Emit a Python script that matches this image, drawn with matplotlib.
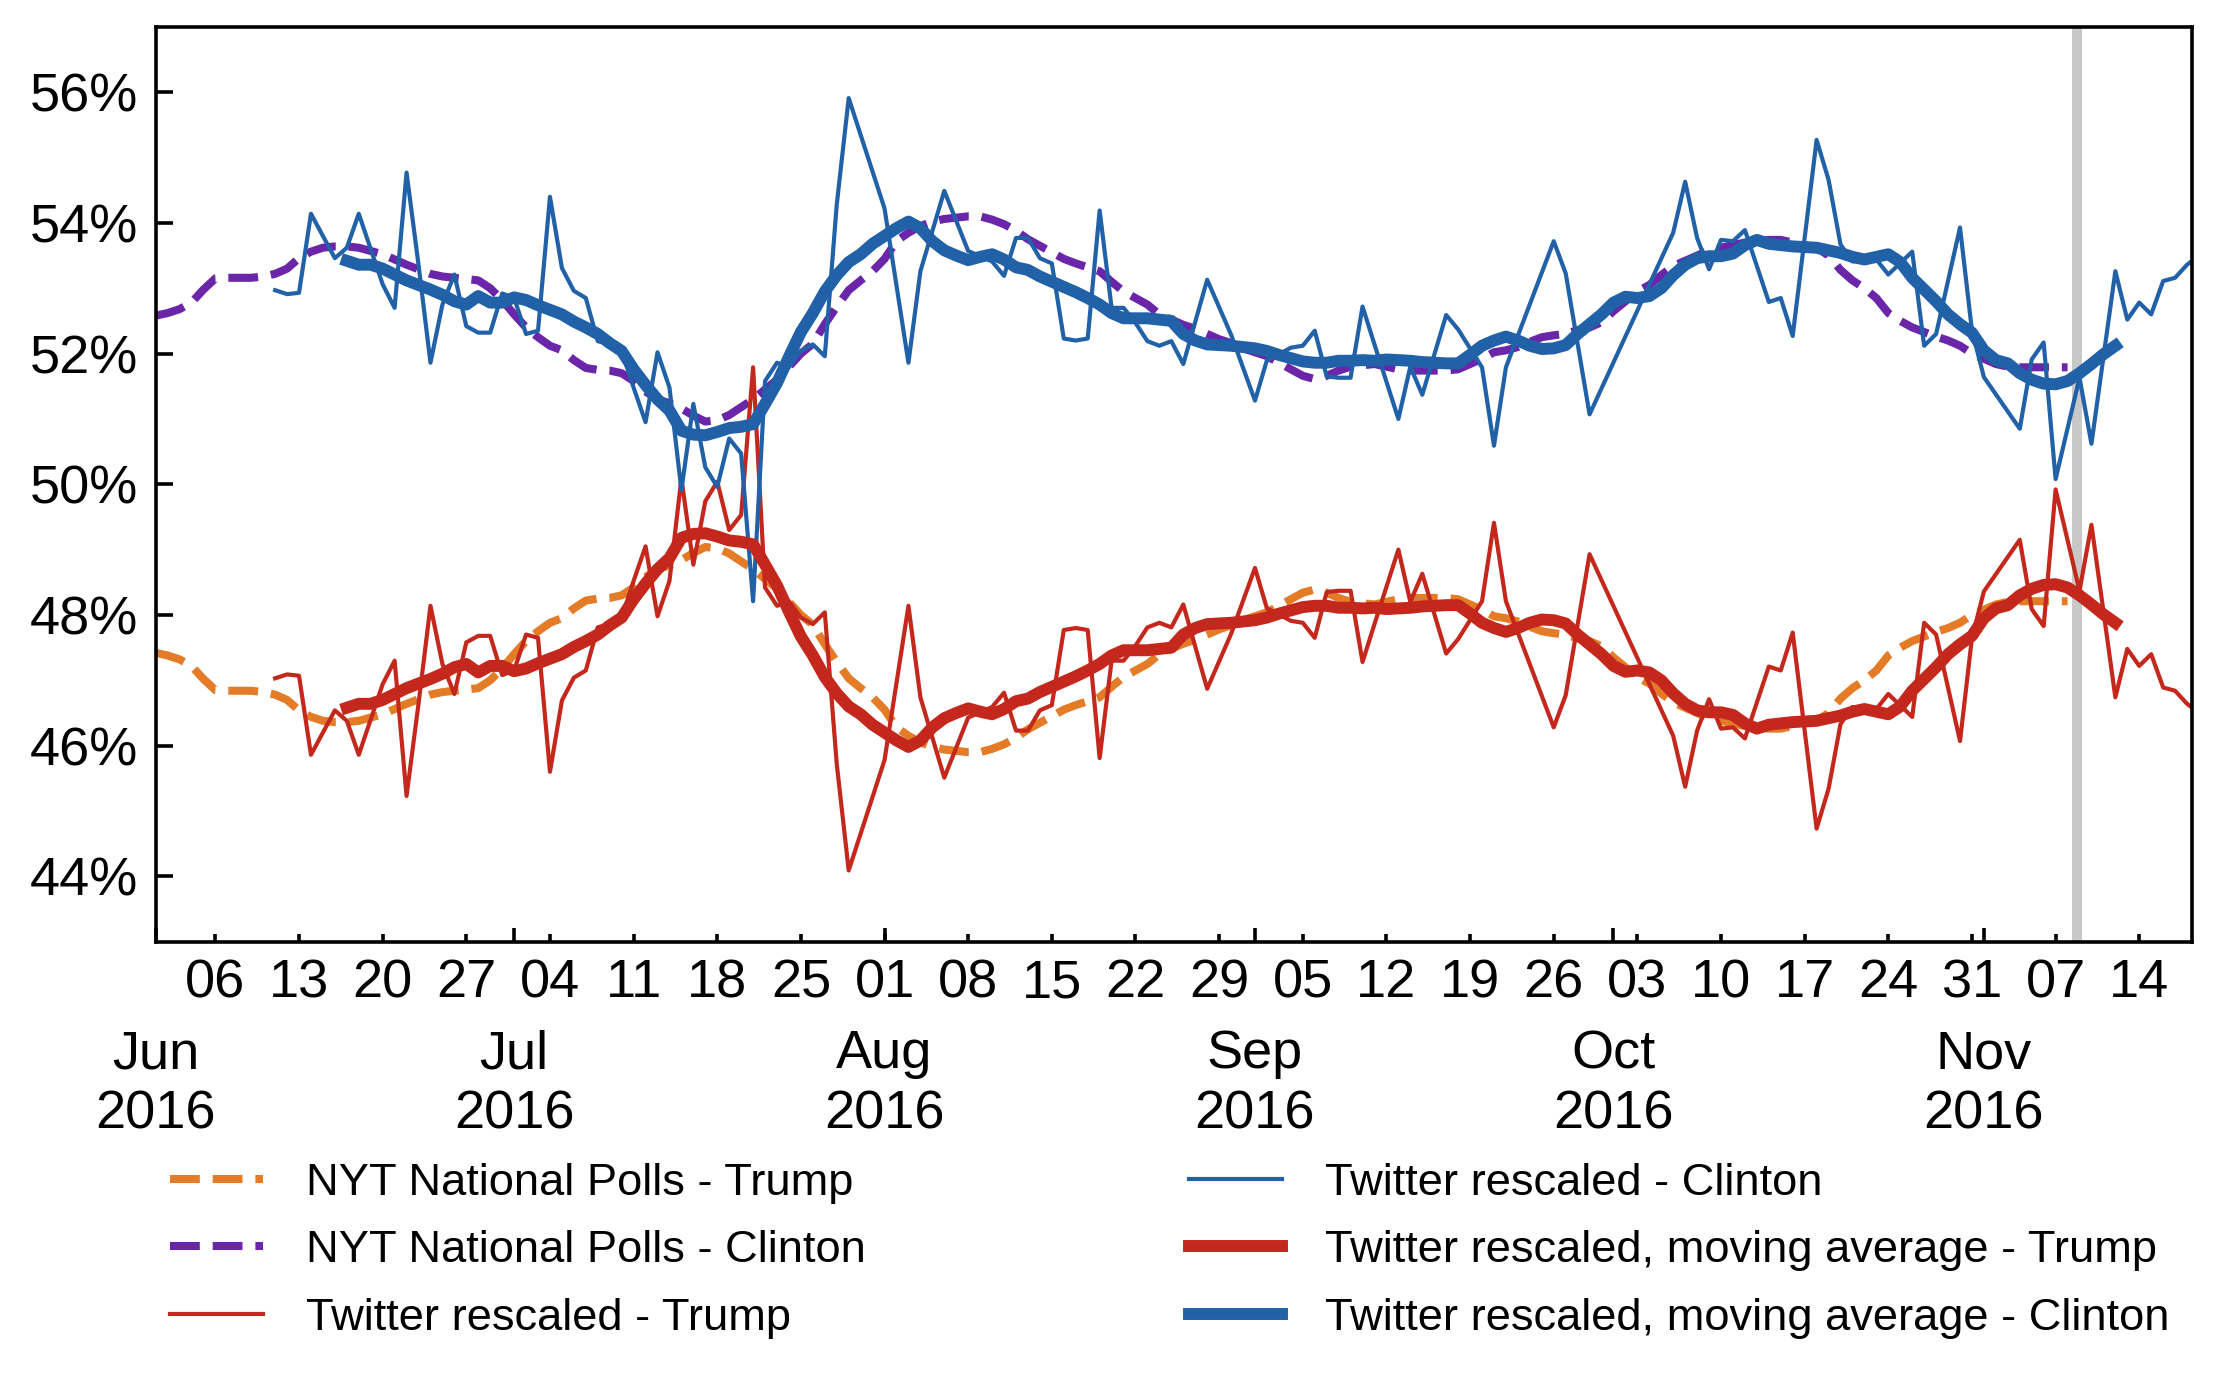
import matplotlib
matplotlib.use("Agg")
import matplotlib.pyplot as plt
import matplotlib.dates as mdates
import pandas as pd
from matplotlib.ticker import FuncFormatter, FixedLocator

plt.rcParams['font.family'] = ['Liberation Sans', 'DejaVu Sans']

# ---------------- data ----------------
# NYT national polls (daily, Jun 1 - Nov 8)
nyt_start, nyt_end = "2016-06-01", "2016-11-08"
nyt_clinton = [
    52.58, 52.62, 52.68, 52.78, 52.98, 53.15, 53.16, 53.16, 53.16, 53.18,
    53.22, 53.30, 53.46, 53.56, 53.62, 53.64, 53.64, 53.62, 53.57, 53.52,
    53.44, 53.36, 53.29, 53.22, 53.18, 53.16, 53.14, 53.12, 53.00, 52.82,
    52.60, 52.40, 52.25, 52.12, 52.05, 51.90, 51.78, 51.75, 51.74, 51.70,
    51.58, 51.42, 51.30, 51.24, 51.16, 51.05, 50.96, 50.98, 51.06, 51.18,
    51.30, 51.45, 51.60, 51.80, 52.00, 52.15, 52.45, 52.72, 52.97, 53.12,
    53.26, 53.45, 53.72, 53.85, 53.95, 54.02, 54.06, 54.08, 54.10, 54.10,
    54.05, 53.98, 53.88, 53.75, 53.65, 53.55, 53.45, 53.38, 53.32, 53.26,
    53.10, 52.95, 52.85, 52.75, 52.60, 52.52, 52.44, 52.38, 52.30, 52.22,
    52.16, 52.08, 52.02, 51.96, 51.86, 51.76, 51.66, 51.61, 51.66, 51.74,
    51.80, 51.82, 51.84, 51.80, 51.76, 51.74, 51.74, 51.74, 51.74, 51.76,
    51.84, 51.92, 52.02, 52.05, 52.10, 52.18, 52.25, 52.28, 52.30, 52.36,
    52.40, 52.48, 52.65, 52.80, 52.95, 53.05, 53.20, 53.34, 53.42, 53.50,
    53.58, 53.62, 53.66, 53.70, 53.72, 53.74, 53.74, 53.70, 53.66, 53.62,
    53.50, 53.28, 53.12, 53.00, 52.85, 52.62, 52.50, 52.40, 52.33, 52.26,
    52.20, 52.12, 52.00, 51.92, 51.84, 51.80, 51.79, 51.79, 51.79, 51.79,
    51.79,
]
nyt_trump = [
    47.42, 47.38, 47.32, 47.22, 47.02, 46.85, 46.84, 46.84, 46.84, 46.82,
    46.78, 46.70, 46.54, 46.44, 46.38, 46.36, 46.36, 46.38, 46.43, 46.48,
    46.56, 46.64, 46.71, 46.78, 46.82, 46.84, 46.86, 46.88, 47.00, 47.18,
    47.40, 47.60, 47.75, 47.88, 47.95, 48.10, 48.22, 48.25, 48.26, 48.30,
    48.42, 48.58, 48.70, 48.76, 48.84, 48.95, 49.04, 49.02, 48.94, 48.82,
    48.70, 48.55, 48.40, 48.20, 48.00, 47.85, 47.55, 47.28, 47.03, 46.88,
    46.74, 46.55, 46.28, 46.15, 46.05, 45.98, 45.94, 45.92, 45.90, 45.90,
    45.95, 46.02, 46.12, 46.25, 46.35, 46.45, 46.55, 46.62, 46.68, 46.74,
    46.90, 47.05, 47.15, 47.25, 47.40, 47.48, 47.56, 47.62, 47.70, 47.78,
    47.84, 47.92, 47.98, 48.04, 48.14, 48.24, 48.34, 48.39, 48.34, 48.26,
    48.20, 48.18, 48.16, 48.20, 48.24, 48.26, 48.26, 48.26, 48.26, 48.24,
    48.16, 48.08, 47.98, 47.95, 47.90, 47.82, 47.75, 47.72, 47.70, 47.64,
    47.60, 47.52, 47.35, 47.20, 47.05, 46.95, 46.80, 46.66, 46.58, 46.50,
    46.42, 46.38, 46.34, 46.30, 46.28, 46.26, 46.26, 46.30, 46.34, 46.38,
    46.50, 46.72, 46.88, 47.00, 47.15, 47.38, 47.50, 47.60, 47.67, 47.74,
    47.80, 47.88, 48.00, 48.08, 48.16, 48.20, 48.21, 48.21, 48.21, 48.21,
    48.21,
]

# Twitter rescaled (irregular days)
tw_dates = [
    "2016-06-11", "2016-06-12", "2016-06-13", "2016-06-14", "2016-06-16", "2016-06-17",
    "2016-06-18", "2016-06-20", "2016-06-21", "2016-06-22", "2016-06-23", "2016-06-24",
    "2016-06-25", "2016-06-26", "2016-06-27", "2016-06-28", "2016-06-29", "2016-06-30",
    "2016-07-01", "2016-07-02", "2016-07-03", "2016-07-04", "2016-07-05", "2016-07-06",
    "2016-07-07", "2016-07-08", "2016-07-09", "2016-07-10", "2016-07-11", "2016-07-12",
    "2016-07-13", "2016-07-14", "2016-07-15", "2016-07-16", "2016-07-17", "2016-07-18",
    "2016-07-19", "2016-07-20", "2016-07-21", "2016-07-22", "2016-07-23", "2016-07-24",
    "2016-07-25", "2016-07-26", "2016-07-27", "2016-07-28", "2016-07-29", "2016-08-01",
    "2016-08-03", "2016-08-04", "2016-08-06", "2016-08-08", "2016-08-10", "2016-08-11",
    "2016-08-12", "2016-08-13", "2016-08-14", "2016-08-15", "2016-08-16", "2016-08-17",
    "2016-08-18", "2016-08-19", "2016-08-20", "2016-08-21", "2016-08-22", "2016-08-23",
    "2016-08-24", "2016-08-25", "2016-08-26", "2016-08-28", "2016-08-30", "2016-09-01",
    "2016-09-02", "2016-09-03", "2016-09-04", "2016-09-05", "2016-09-06", "2016-09-07",
    "2016-09-08", "2016-09-09", "2016-09-10", "2016-09-11", "2016-09-13", "2016-09-14",
    "2016-09-15", "2016-09-17", "2016-09-18", "2016-09-20", "2016-09-21", "2016-09-22",
    "2016-09-26", "2016-09-27", "2016-09-29", "2016-10-06", "2016-10-07", "2016-10-08",
    "2016-10-09", "2016-10-10", "2016-10-11", "2016-10-12", "2016-10-14", "2016-10-15",
    "2016-10-16", "2016-10-18", "2016-10-19", "2016-10-20", "2016-10-21", "2016-10-23",
    "2016-10-24", "2016-10-26", "2016-10-27", "2016-10-28", "2016-10-30", "2016-10-31",
    "2016-11-01", "2016-11-04", "2016-11-05", "2016-11-06", "2016-11-07", "2016-11-09",
    "2016-11-10", "2016-11-12", "2016-11-13", "2016-11-14", "2016-11-15", "2016-11-16",
    "2016-11-17", "2016-11-18", "2016-11-19",
]
tw_clinton = [
    52.97, 52.91, 52.93, 54.14, 53.46, 53.62,
    54.14, 53.06, 52.70, 54.77, 53.36, 51.86,
    52.75, 53.21, 52.42, 52.32, 52.32, 52.92,
    52.85, 52.30, 52.35, 54.40, 53.31, 52.96,
    52.85, 52.19, 52.14, 52.04, 51.48, 50.95,
    52.02, 51.48, 49.91, 51.23, 50.26, 49.96,
    50.70, 50.47, 48.21, 51.58, 51.86, 51.79,
    52.04, 52.14, 51.96, 54.28, 55.91, 54.22,
    51.86, 53.26, 54.49, 53.57, 53.41, 53.19,
    53.77, 53.77, 53.46, 53.38, 52.23, 52.20,
    52.23, 54.19, 52.70, 52.70, 52.47, 52.19,
    52.12, 52.19, 51.84, 53.13, 52.29, 51.28,
    51.90, 51.99, 52.09, 52.12, 52.35, 51.65,
    51.63, 51.63, 52.72, 52.14, 51.00, 51.80,
    51.37, 52.59, 52.37, 51.79, 50.59, 51.79,
    53.72, 53.23, 51.07, 53.85, 54.63, 53.77,
    53.29, 53.74, 53.72, 53.89, 52.79, 52.85,
    52.27, 55.27, 54.66, 53.67, 53.41, 53.44,
    53.21, 53.56, 52.12, 52.30, 53.93, 52.35,
    51.64, 50.85, 51.91, 52.17, 50.08, 51.63,
    50.62, 53.26, 52.52, 52.78, 52.60, 53.11,
    53.16, 53.36, 53.50,
]
tw_trump = [
    47.03, 47.09, 47.07, 45.86, 46.54, 46.38,
    45.86, 46.94, 47.30, 45.23, 46.64, 48.14,
    47.25, 46.79, 47.58, 47.68, 47.68, 47.08,
    47.15, 47.70, 47.65, 45.60, 46.69, 47.04,
    47.15, 47.81, 47.86, 47.96, 48.52, 49.05,
    47.98, 48.52, 50.09, 48.77, 49.74, 50.04,
    49.30, 49.53, 51.79, 48.42, 48.14, 48.21,
    47.96, 47.86, 48.04, 45.72, 44.09, 45.78,
    48.14, 46.74, 45.51, 46.43, 46.59, 46.81,
    46.23, 46.23, 46.54, 46.62, 47.77, 47.80,
    47.77, 45.81, 47.30, 47.30, 47.53, 47.81,
    47.88, 47.81, 48.16, 46.87, 47.71, 48.72,
    48.10, 48.01, 47.91, 47.88, 47.65, 48.35,
    48.37, 48.37, 47.28, 47.86, 49.00, 48.20,
    48.63, 47.41, 47.63, 48.21, 49.41, 48.21,
    46.28, 46.77, 48.93, 46.15, 45.37, 46.23,
    46.71, 46.26, 46.28, 46.11, 47.21, 47.15,
    47.73, 44.73, 45.34, 46.33, 46.59, 46.56,
    46.79, 46.44, 47.88, 47.70, 46.07, 47.65,
    48.36, 49.15, 48.09, 47.83, 49.92, 48.37,
    49.38, 46.74, 47.48, 47.22, 47.40, 46.89,
    46.84, 46.64, 46.50,
]

# Twitter rescaled, moving average (daily, Jun 17 - Nov 12)
ma_start, ma_end = "2016-06-17", "2016-11-12"
ma_clinton = [
    53.42, 53.36, 53.36, 53.30, 53.21, 53.12, 53.05, 52.98, 52.90, 52.80,
    52.75, 52.88, 52.78, 52.78, 52.86, 52.82, 52.74, 52.67, 52.60, 52.49,
    52.40, 52.30, 52.16, 52.04, 51.76, 51.52, 51.30, 51.13, 50.82, 50.76,
    50.75, 50.80, 50.86, 50.88, 50.92, 51.23, 51.55, 51.95, 52.33, 52.62,
    52.95, 53.20, 53.40, 53.52, 53.68, 53.80, 53.92, 54.02, 53.92, 53.72,
    53.58, 53.50, 53.43, 53.48, 53.52, 53.44, 53.32, 53.28, 53.18, 53.10,
    53.02, 52.94, 52.85, 52.75, 52.62, 52.54, 52.54, 52.54, 52.52, 52.50,
    52.30, 52.20, 52.14, 52.13, 52.12, 52.10, 52.08, 52.04, 51.98, 51.93,
    51.88, 51.86, 51.86, 51.89, 51.89, 51.90, 51.89, 51.91, 51.90, 51.89,
    51.87, 51.86, 51.85, 51.85, 51.98, 52.12, 52.20, 52.26, 52.20, 52.12,
    52.07, 52.08, 52.13, 52.30, 52.45, 52.60, 52.78, 52.87, 52.85, 52.88,
    53.00, 53.20, 53.36, 53.46, 53.49, 53.49, 53.53, 53.66, 53.74, 53.68,
    53.66, 53.64, 53.63, 53.62, 53.58, 53.54, 53.48, 53.44, 53.48, 53.52,
    53.40, 53.16, 52.98, 52.80, 52.60, 52.45, 52.32, 52.05, 51.90, 51.85,
    51.70, 51.60, 51.54, 51.53, 51.58, 51.70, 51.84, 51.99, 52.12,
]
ma_trump = [
    46.58, 46.64, 46.64, 46.70, 46.79, 46.88, 46.95, 47.02, 47.10, 47.20,
    47.25, 47.12, 47.22, 47.22, 47.14, 47.18, 47.26, 47.33, 47.40, 47.51,
    47.60, 47.70, 47.84, 47.96, 48.24, 48.48, 48.70, 48.87, 49.18, 49.24,
    49.25, 49.20, 49.14, 49.12, 49.08, 48.77, 48.45, 48.05, 47.67, 47.38,
    47.05, 46.80, 46.60, 46.48, 46.32, 46.20, 46.08, 45.98, 46.08, 46.28,
    46.42, 46.50, 46.57, 46.52, 46.48, 46.56, 46.68, 46.72, 46.82, 46.90,
    46.98, 47.06, 47.15, 47.25, 47.38, 47.46, 47.46, 47.46, 47.48, 47.50,
    47.70, 47.80, 47.86, 47.87, 47.88, 47.90, 47.92, 47.96, 48.02, 48.07,
    48.12, 48.14, 48.14, 48.11, 48.11, 48.10, 48.11, 48.09, 48.10, 48.11,
    48.13, 48.14, 48.15, 48.15, 48.02, 47.88, 47.80, 47.74, 47.80, 47.88,
    47.93, 47.92, 47.87, 47.70, 47.55, 47.40, 47.22, 47.13, 47.15, 47.12,
    47.00, 46.80, 46.64, 46.54, 46.51, 46.51, 46.47, 46.34, 46.26, 46.32,
    46.34, 46.36, 46.37, 46.38, 46.42, 46.46, 46.52, 46.56, 46.52, 46.48,
    46.60, 46.84, 47.02, 47.20, 47.40, 47.55, 47.68, 47.95, 48.10, 48.15,
    48.30, 48.40, 48.46, 48.47, 48.42, 48.30, 48.16, 48.01, 47.88,
]

election_time = "2016-11-08 19:00"
x_range = ("2016-06-01", "2016-11-18 10:00")
y_ticks = [44, 46, 48, 50, 52, 54, 56]

labels = ["NYT National Polls - Trump", "NYT National Polls - Clinton",
          "Twitter rescaled - Trump", "Twitter rescaled - Clinton",
          "Twitter rescaled, moving average - Trump",
          "Twitter rescaled, moving average - Clinton"]

# ---------------- style ----------------
C_ORANGE = "#E37B27"
C_PURPLE = "#6A25A9"
C_RED = "#C4281C"
C_BLUE = "#2161A8"

nyt_x = pd.date_range(nyt_start, nyt_end, freq="D")
ma_x = pd.date_range(ma_start, ma_end, freq="D")
tw_x = pd.to_datetime(tw_dates)

fig = plt.figure(figsize=(11.1, 6.925), dpi=200)
ax = fig.add_axes([0.0701, 0.3201, 0.9173, 0.6605])

ax.axvline(pd.Timestamp(election_time), color="#C8C8C8", lw=3.6, zorder=0.5)

h1, = ax.plot(nyt_x, nyt_trump, color=C_ORANGE, lw=2.9, ls="--", label=labels[0])
h2, = ax.plot(nyt_x, nyt_clinton, color=C_PURPLE, lw=2.9, ls="--", label=labels[1])
h3, = ax.plot(tw_x, tw_trump, color=C_RED, lw=1.5, label=labels[2])
h4, = ax.plot(tw_x, tw_clinton, color=C_BLUE, lw=1.5, label=labels[3])
h5, = ax.plot(ma_x, ma_trump, color=C_RED, lw=4.3, label=labels[4])
h6, = ax.plot(ma_x, ma_clinton, color=C_BLUE, lw=4.3, label=labels[5])

ax.set_xlim(pd.Timestamp(x_range[0]), pd.Timestamp(x_range[1]))
ax.set_ylim(43, 57)
ax.yaxis.set_major_locator(FixedLocator(y_ticks))
ax.yaxis.set_major_formatter(FuncFormatter(lambda v, p: f"{v:.0f}%"))

ax.xaxis.set_major_locator(mdates.MonthLocator())
ax.xaxis.set_major_formatter(mdates.DateFormatter("%b\n%Y"))
ax.xaxis.set_minor_locator(mdates.WeekdayLocator(byweekday=mdates.MO))
ax.xaxis.set_minor_formatter(mdates.DateFormatter("%d"))
ax.xaxis.remove_overlapping_locs = False

fs = 19.5
ax.tick_params(axis="x", which="major", direction="in", length=5, width=1.3,
               pad=31.5, labelsize=fs, top=False)
ax.tick_params(axis="x", which="minor", direction="in", length=2.8, width=1.3,
               pad=6, labelsize=fs, top=False)
ax.tick_params(axis="y", which="major", direction="in", length=6, width=1.3,
               pad=6.5, labelsize=fs, right=False)
for s in ax.spines.values():
    s.set_linewidth(1.3)

fig.canvas.draw()
for lbl in ax.xaxis.get_majorticklabels():
    lbl.set_linespacing(1.27)

leg_kw = dict(loc="upper left", frameon=False, fontsize=16.3, handlelength=2.05,
              handletextpad=0.95, labelspacing=0.58, borderpad=0, borderaxespad=0)
fig.legend([h1, h2, h3], labels[:3], bbox_to_anchor=(0.0766, 0.1603), **leg_kw)
fig.legend([h4, h5, h6], labels[3:], bbox_to_anchor=(0.5358, 0.1603), **leg_kw)

fig.savefig("out.png", dpi=200)
